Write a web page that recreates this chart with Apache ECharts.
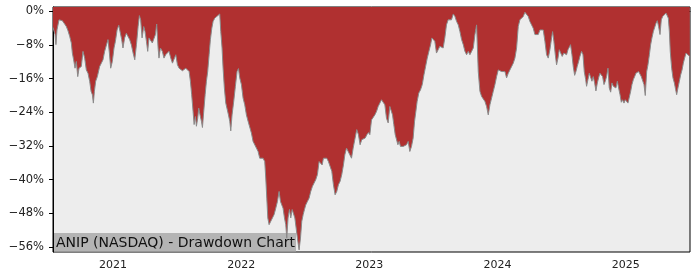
<!DOCTYPE html>
<html>
<head>
<meta charset="utf-8">
<script src="https://cdn.jsdelivr.net/npm/echarts@6/dist/echarts.min.js"></script>
<style>html,body{margin:0;padding:0;background:#fff}#c{width:700px;height:280px}</style>
</head>
<body>
<div id="c"></div>
<script>
// Decimal-year positions of the sampled points
const years = [
2020.532,2020.548,2020.555,2020.563,2020.579,2020.592,2020.605,2020.623,2020.636,2020.649,2020.662,2020.675,2020.683,2020.693,2020.704,2020.714,2020.725,2020.735,2020.753,2020.766,2020.779,2020.792,2020.805,2020.818,2020.829,2020.839,2020.847,2020.855,2020.865,2020.878,2020.896,2020.909,2020.922,2020.935,2020.948,2020.961,2020.972,2020.982,2020.995,2021.008,2021.019,2021.032,2021.045,2021.058,2021.068,2021.078,2021.091,2021.104,2021.117,2021.130,2021.143,2021.157,2021.170,2021.183,2021.196,2021.206,2021.216,2021.227,2021.240,2021.250,2021.261,2021.271,2021.281,2021.294,2021.307,2021.320,2021.331,2021.341,2021.352,2021.359,2021.370,2021.385,2021.398,2021.411,2021.424,2021.437,2021.451,2021.464,2021.477,2021.490,2021.503,2021.516,2021.529,2021.542,2021.555,2021.568,2021.581,2021.594,2021.604,2021.614,2021.625,2021.633,2021.643,2021.651,2021.661,2021.669,2021.679,2021.690,2021.698,2021.708,2021.719,2021.729,2021.739,2021.750,2021.760,2021.771,2021.781,2021.794,
2021.807,2021.833,2021.841,2021.851,2021.859,2021.869,2021.880,2021.890,2021.901,2021.911,2021.919,2021.929,2021.942,2021.955,2021.968,2021.979,2021.989,2022.002,2022.015,2022.028,2022.041,2022.054,2022.067,2022.080,2022.093,2022.106,2022.119,2022.132,2022.145,2022.158,2022.171,2022.184,2022.192,2022.200,2022.208,2022.218,2022.231,2022.244,2022.257,2022.270,2022.283,2022.296,2022.307,2022.317,2022.327,2022.338,2022.348,2022.356,2022.366,2022.377,2022.387,2022.398,2022.408,2022.419,2022.429,2022.439,2022.452,2022.463,2022.473,2022.484,2022.494,2022.504,2022.517,2022.530,2022.543,2022.556,2022.569,2022.582,2022.595,2022.608,2022.621,2022.632,2022.642,2022.655,2022.668,2022.681,2022.694,2022.707,2022.720,2022.733,2022.746,2022.759,2022.772,2022.785,2022.798,2022.809,2022.822,2022.835,2022.848,2022.861,2022.874,2022.889,2022.902,2022.915,2022.928,2022.941,2022.954,2022.968,2022.981,2022.994,
2023.004,2023.017,2023.030,2023.043,2023.056,2023.069,2023.082,2023.095,2023.108,2023.121,2023.134,2023.147,2023.160,2023.171,2023.181,2023.191,2023.202,2023.212,2023.223,2023.233,2023.243,2023.254,2023.264,2023.277,2023.290,2023.303,2023.316,2023.329,2023.342,2023.353,2023.363,2023.373,2023.386,2023.400,2023.413,2023.426,2023.439,2023.452,2023.465,2023.478,2023.488,2023.498,2023.511,2023.524,2023.537,2023.550,2023.563,2023.576,2023.589,2023.602,2023.615,2023.628,2023.641,2023.655,2023.668,2023.681,2023.694,2023.707,2023.720,2023.733,2023.746,2023.759,2023.772,2023.785,2023.798,2023.811,2023.824,2023.837,2023.850,2023.863,2023.876,2023.889,2023.902,2023.915,2023.928,2023.941,2023.954,2023.967,2023.980,2023.993,2024.006,2024.019,2024.032,2024.045,2024.058,2024.071,2024.084,2024.097,2024.110,2024.123,2024.136,2024.149,2024.162,2024.175,2024.188,2024.201,2024.214,2024.227,2024.240,2024.253,2024.266,
2024.279,2024.292,2024.305,2024.318,2024.331,2024.344,2024.357,2024.370,2024.383,2024.396,2024.409,2024.422,2024.430,2024.440,2024.451,2024.461,2024.472,2024.482,2024.495,2024.505,2024.518,2024.529,2024.539,2024.550,2024.560,2024.570,2024.581,2024.591,2024.602,2024.612,2024.622,2024.633,2024.643,2024.656,2024.667,2024.677,2024.688,2024.695,2024.706,2024.716,2024.727,2024.737,2024.747,2024.758,2024.768,2024.779,2024.789,2024.799,2024.810,2024.820,2024.831,2024.841,2024.851,2024.862,2024.872,2024.883,2024.893,2024.904,2024.914,2024.924,2024.935,2024.945,2024.956,2024.966,2024.976,2024.987,2024.997,2025.008,2025.018,2025.028,2025.039,2025.049,2025.060,2025.070,2025.080,2025.091,2025.101,2025.112,2025.122,2025.132,2025.143,2025.153,2025.164,2025.174,2025.185,2025.195,2025.205,2025.216,2025.229,2025.237,2025.247,2025.257,2025.268,2025.278,2025.289,2025.302,2025.315,2025.325,2025.333,2025.341,2025.348,2025.359,2025.369,2025.380,2025.390,2025.398,2025.408,2025.419,2025.429,2025.440,2025.450,2025.460,2025.471,2025.481,2025.500
];
// Drawdown in percent
const drawdown = [
-3.8,-5.5,-7.9,-4.4,-2.0,-1.6,-2.2,-3.0,-3.6,-4.6,-5.9,-7.5,-9.9,-11.5,-13.5,-11.9,-15.5,-13.5,-13.1,-9.5,-11.1,-13.9,-14.7,-16.6,-19.0,-19.8,-21.8,-19.0,-16.6,-15.5,-13.1,-12.3,-11.5,-9.5,-9.1,-6.7,-9.9,-13.5,-11.9,-8.7,-7.1,-4.4,-3.3,-3.0,-6.7,-8.7,-6.3,-5.2,-5.2,-6.7,-7.9,-9.9,-11.5,-7.9,-3.6,-1.0,-2.0,-6.3,-3.6,-4.8,-7.1,-9.5,-6.3,-6.3,-7.5,-7.9,-5.5,-3.0,-8.7,-11.1,-8.7,-9.5,-11.1,-10.3,-9.9,-9.5,-11.1,-12.3,-12.3,-10.3,-12.7,-13.5,-13.1,-14.1,-13.9,-13.5,-13.1,-14.3,-16.6,-19.8,-23.8,-26.9,-25.0,-27.3,-25.4,-23.0,-24.6,-26.1,-27.6,-23.8,-19.8,-16.6,-14.3,-10.3,-6.7,-4.0,-2.4,-1.6,
-1.6,-0.6,-4.8,-8.7,-13.5,-18.2,-21.8,-22.2,-24.6,-26.1,-28.4,-24.6,-21.4,-17.8,-14.3,-13.6,-15.8,-17.4,-20.6,-22.2,-24.6,-26.1,-26.5,-28.9,-30.9,-30.9,-32.5,-33.3,-34.9,-35.3,-34.9,-35.7,-39.6,-44.4,-49.1,-50.7,-49.9,-49.1,-48.3,-46.8,-45.2,-42.8,-45.2,-46.0,-46.8,-49.1,-50.7,-53.9,-49.1,-47.1,-49.1,-47.1,-47.5,-49.1,-51.5,-53.9,-56.7,-53.9,-49.9,-48.3,-47.1,-46.0,-45.2,-44.4,-42.8,-41.6,-40.8,-40.0,-38.8,-35.7,-35.3,-36.5,-34.9,-35.3,-34.9,-35.7,-35.7,-38.0,-41.2,-43.6,-42.8,-41.2,-40.4,-38.8,-36.5,-34.1,-32.5,-33.3,-34.1,-34.9,-32.5,-30.1,-28.1,-29.3,-31.7,-30.5,-30.9,-30.1,-29.3,-28.8,
-29.3,-25.8,-25.8,-24.6,-23.8,-22.6,-21.8,-21.0,-21.0,-22.2,-25.4,-26.5,-22.6,-22.2,-24.6,-26.9,-29.3,-29.7,-31.7,-30.9,-32.1,-32.1,-32.1,-32.5,-31.7,-30.9,-33.3,-32.1,-30.1,-26.1,-23.8,-21.4,-19.4,-18.6,-17.4,-15.1,-13.1,-11.1,-9.5,-7.9,-6.3,-5.9,-7.1,-9.9,-9.1,-8.3,-7.9,-8.7,-6.3,-3.2,-2.0,-1.6,-2.0,-0.6,-1.2,-2.4,-3.2,-4.8,-6.7,-7.9,-9.5,-10.3,-9.5,-10.3,-10.7,-8.7,-5.5,-3.2,-14.3,-19.0,-20.2,-20.6,-21.4,-22.6,-24.6,-22.2,-20.6,-19.0,-17.4,-15.5,-13.9,-13.9,-14.3,-14.7,-14.3,-15.8,-14.7,-13.9,-13.9,-12.3,-11.1,-8.7,-3.6,-2.0,-1.6,-1.2,-0.2,0,-1.2,-2.4,-2.8,
-4.0,-5.5,-5.9,-5.5,-4.4,-4.0,-4.4,-7.1,-10.3,-11.1,-9.1,-6.3,-4.8,-7.1,-10.3,-12.7,-11.1,-9.1,-9.1,-10.7,-9.9,-9.5,-10.3,-9.1,-9.5,-7.9,-10.3,-13.1,-15.2,-14.3,-13.1,-11.9,-10.7,-9.5,-10.3,-14.3,-16.2,-17.8,-16.2,-14.7,-15.1,-16.6,-15.5,-17.0,-18.9,-17.0,-15.8,-14.7,-15.1,-15.5,-17.4,-16.6,-15.5,-13.5,-18.2,-19.2,-17.0,-17.8,-17.4,-18.2,-16.6,-18.2,-19.8,-21.6,-21.0,-21.8,-21.0,-21.4,-21.8,-21.4,-19.0,-17.4,-16.2,-15.5,-14.7,-15.1,-14.3,-14.7,-15.5,-15.1,-17.4,-20.0,-14.3,-12.7,-10.3,-7.9,-6.3,-4.8,-4.4,-2.8,-2.2,-3.6,-5.5,-2.0,-1.2,-0.8,-0.4,0,-1.6,-4.8,-9.5,-13.5,-15.8,-17.0,-18.6,-19.8,-18.2,-16.6,-15.1,-13.9,-12.3,-11.1,-9.9,-10.3,-10.7
];
const yTicks = [-56, -48, -40, -32, -24, -16, -8, 0];
const xTicks = [2021, 2022, 2023, 2024, 2025];
const title = 'ANIP (NASDAQ) - Drawdown Chart';

const n = Math.min(years.length, drawdown.length);
const data = [];
for (let i = 0; i < n; i++) data.push([years[i], drawdown[i]]);

const chart = echarts.init(document.getElementById('c'), null, {renderer: 'canvas'});
const font = 'DejaVu Sans';
chart.setOption({
  animation: false,
  grid: {left: 53, right: 10, top: 7, bottom: 28, show: true, backgroundColor: '#ededed', borderColor: '#000', borderWidth: 1},
  xAxis: {
    type: 'value', min: 2020.532, max: 2025.502,
    axisLine: {show: true, lineStyle: {color: '#000', width: 1}},
    axisTick: {show: true, length: 4, lineStyle: {color: '#000'}, customValues: xTicks},
    axisLabel: {customValues: xTicks, color: '#222', fontFamily: font, fontSize: 11, margin: 8, formatter: v => String(Math.round(v))},
    splitLine: {show: false}
  },
  yAxis: {
    type: 'value', min: -57.2, max: 1.05,
    axisLine: {show: true, lineStyle: {color: '#000', width: 1}},
    axisTick: {show: true, length: 4, lineStyle: {color: '#000'}, customValues: yTicks},
    axisLabel: {customValues: yTicks, color: '#222', fontFamily: font, fontSize: 11.5, margin: 9,
      formatter: v => (v < 0 ? '\u2212' + Math.abs(Math.round(v)) : Math.round(v)) + '%'},
    splitLine: {show: false}
  },
  series: [{
    type: 'line', data: data, symbol: 'none', smooth: false,
    lineStyle: {color: '#8a8a8a', width: 1},
    areaStyle: {origin: 'end', color: '#b03030', opacity: 1}
  }],
  graphic: [{
    type: 'group', z: 100,
    children: [
      {type: 'rect', shape: {x: 54, y: 233, width: 242, height: 19}, style: {fill: 'rgba(160,160,160,0.75)'}},
      {type: 'text', x: 56, y: 243, style: {text: title, font: '14px "DejaVu Sans"', fill: '#111', verticalAlign: 'middle', align: 'left'}}
    ]
  }]
});
</script>
</body>
</html>
